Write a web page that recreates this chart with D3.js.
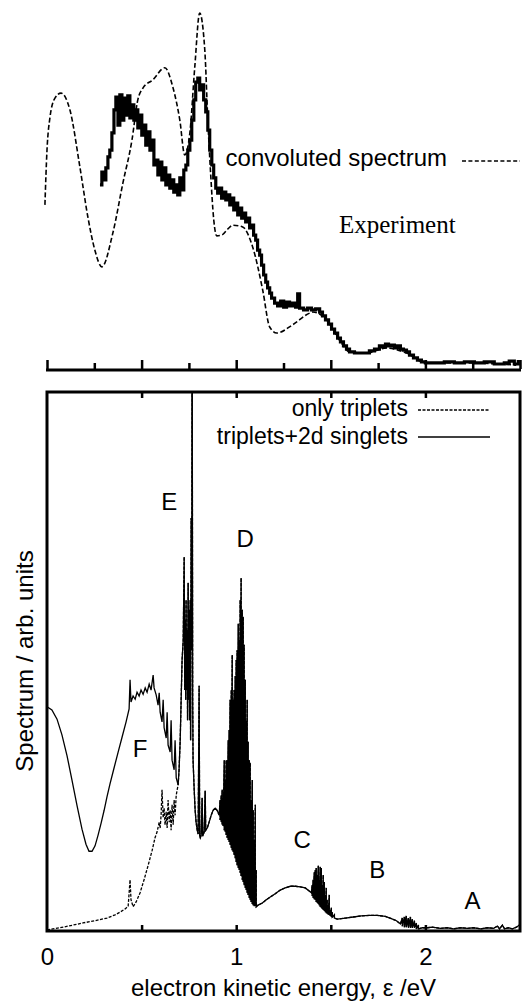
<!DOCTYPE html>
<html><head><meta charset="utf-8">
<script src="https://cdn.jsdelivr.net/npm/d3@7"></script>
<style>
html,body{margin:0;padding:0;background:#fff;}
svg{display:block;}
text{font-family:"Liberation Sans",Arial,Helvetica,sans-serif;fill:#000;}
</style>
</head><body>
<svg id="c" width="522" height="1006"></svg>
<script>
// ---------- DATA ----------
// Top panel: convoluted theoretical spectrum (dashed)
const convoluted = [[-0.011,46.1],[0.000,61.5],[0.016,70.8],[0.042,76.1],[0.074,77.5],[0.121,72.8],[0.174,56.7],[0.216,42.7],[0.253,33.4],[0.290,28.7],[0.348,38.2],[0.401,52.2],[0.449,64.3],[0.480,75.6],[0.507,78.9],[0.559,81.2],[0.623,84.6],[0.665,79.2],[0.702,69.9],[0.728,60.1],[0.755,66.3],[0.781,84.8],[0.807,100],[0.834,89.6],[0.850,69.9],[0.865,54.8],[0.881,42.1],[0.897,37.4],[0.923,37.6],[0.955,39.3],[0.982,40.4],[1.034,39.9],[1.087,34.3],[1.140,22.2],[1.177,11.8],[1.214,10.1],[1.298,12.4],[1.388,15.7],[1.404,16.0],[1.478,13.8],[1.546,8.1],[1.599,4.8],[1.689,4.5],[1.794,5.9],[1.900,4.5],[2.005,1.7],[2.216,1.7],[2.480,1.1]];

// Top panel: experiment (thick step line)
const experiment = [[0.280,51.7],[0.290,55.3],[0.301,53.1],[0.311,56.5],[0.322,59.6],[0.332,61.5],[0.343,66.3],[0.354,72.8],[0.364,76.4],[0.375,68.5],[0.385,77.0],[0.396,69.9],[0.406,76.1],[0.417,71.3],[0.427,76.7],[0.438,70.5],[0.449,74.2],[0.459,69.9],[0.470,72.8],[0.480,67.7],[0.491,71.3],[0.501,65.7],[0.512,68.5],[0.522,62.9],[0.533,66.6],[0.544,61.5],[0.554,64.3],[0.565,57.3],[0.575,58.7],[0.586,54.5],[0.596,58.1],[0.607,53.1],[0.617,56.5],[0.628,51.7],[0.639,54.5],[0.649,50.8],[0.660,53.1],[0.670,49.7],[0.681,51.7],[0.691,48.9],[0.702,53.7],[0.712,50.3],[0.723,55.9],[0.734,57.3],[0.744,61.5],[0.755,64.3],[0.765,69.9],[0.776,75.6],[0.786,80.6],[0.797,81.7],[0.807,78.4],[0.818,79.8],[0.828,75.6],[0.839,72.2],[0.850,67.1],[0.860,61.5],[0.871,57.3],[0.881,53.7],[0.892,50.8],[0.902,49.4],[0.913,50.8],[0.923,48.0],[0.934,49.7],[0.945,47.5],[0.955,48.9],[0.966,46.1],[0.976,48.0],[0.987,44.7],[0.997,46.6],[1.008,43.3],[1.018,45.2],[1.029,42.4],[1.040,43.8],[1.050,41.3],[1.061,42.4],[1.071,39.6],[1.082,40.4],[1.092,37.6],[1.103,36.2],[1.113,33.4],[1.124,32.0],[1.134,29.2],[1.145,26.4],[1.156,24.4],[1.166,22.8],[1.177,21.3],[1.187,19.9],[1.203,18.5],[1.219,17.7],[1.235,19.1],[1.251,17.4],[1.266,18.8],[1.282,17.7],[1.298,18.5],[1.314,17.4],[1.325,21.1],[1.335,17.1],[1.356,16.6],[1.377,17.1],[1.398,16.6],[1.420,16.9],[1.441,16.0],[1.456,14.9],[1.472,13.8],[1.488,12.6],[1.504,11.2],[1.520,10.1],[1.536,8.7],[1.551,7.6],[1.567,6.5],[1.583,5.6],[1.599,4.8],[1.625,4.5],[1.652,4.5],[1.678,4.5],[1.704,5.1],[1.731,5.6],[1.757,6.5],[1.773,6.2],[1.789,7.0],[1.805,6.5],[1.821,6.7],[1.836,5.9],[1.852,6.5],[1.868,5.6],[1.884,5.3],[1.900,4.8],[1.916,3.9],[1.937,3.1],[1.958,2.5],[1.979,2.0],[2.000,1.7],[2.048,1.7],[2.100,2.0],[2.153,1.7],[2.206,2.0],[2.259,1.7],[2.311,2.0],[2.364,1.4],[2.417,1.7],[2.443,2.2],[2.470,1.4],[2.491,2.5]];

// Bottom panel: "triplets+2d singlets" low-energy part (solid)
const singletsLow = [[0.000,41.6],[0.026,41.0],[0.053,39.3],[0.079,36.4],[0.106,32.5],[0.132,28.0],[0.159,23.2],[0.185,18.9],[0.206,16.1],[0.222,14.8],[0.238,14.8],[0.254,15.8],[0.270,17.8],[0.286,20.0],[0.302,22.4],[0.317,24.9],[0.333,27.3],[0.354,30.2],[0.376,33.2],[0.397,36.0],[0.418,38.8],[0.434,41.2],[0.439,46.6],[0.444,42.5],[0.455,43.6],[0.466,43.0],[0.476,44.3],[0.487,43.6],[0.497,44.7],[0.508,43.9],[0.519,45.1],[0.529,44.3],[0.540,45.8],[0.550,44.7],[0.561,47.5],[0.566,45.1],[0.577,43.8],[0.587,41.9],[0.593,44.2],[0.598,40.6],[0.608,38.8],[0.614,42.9],[0.619,37.7],[0.630,35.8],[0.635,40.6],[0.640,34.5],[0.651,33.2],[0.656,39.1],[0.661,31.7],[0.672,29.9],[0.677,35.4],[0.683,28.4],[0.693,27.1]];

// Bottom panel: "only triplets" low-energy part (dashed)
const tripletsLow = [[0.000,0.2],[0.069,0.6],[0.138,1.1],[0.190,1.5],[0.254,1.9],[0.317,2.4],[0.360,3.0],[0.386,3.5],[0.413,4.1],[0.429,4.6],[0.439,9.5],[0.444,5.8],[0.455,4.5],[0.471,5.4],[0.492,7.1],[0.513,9.5],[0.534,12.1],[0.556,15.0],[0.571,17.3],[0.582,18.4],[0.593,20.2],[0.598,19.1],[0.603,21.5],[0.608,26.2],[0.614,21.0],[0.619,22.8],[0.624,19.7],[0.630,22.1],[0.635,19.1],[0.640,24.3],[0.646,20.2],[0.651,22.4],[0.656,18.7],[0.661,23.4],[0.667,19.7],[0.672,24.3],[0.677,21.5],[0.683,25.2],[0.688,26.2],[0.693,27.1]];

// Bottom panel: common part of both spectra (E region and up)
const sharedE = [[0.698,29.9],[0.704,35.4],[0.709,42.9],[0.714,50.3],[0.720,54.0],[0.725,69.4],[0.728,44.7],[0.730,57.7],[0.733,42.9],[0.735,61.4],[0.738,44.7],[0.741,55.8],[0.743,39.1],[0.746,64.6],[0.749,42.9],[0.751,59.6],[0.754,39.1],[0.757,61.4],[0.759,35.4],[0.762,76.6],[0.765,52.1],[0.767,120],[0.770,42.9],[0.772,31.7],[0.778,26.2],[0.783,22.4],[0.788,20.2],[0.794,18.7],[0.799,18.0],[0.804,45.5],[0.807,17.6],[0.810,17.3],[0.815,17.8],[0.820,24.7],[0.823,17.6],[0.831,18.4],[0.836,26.0],[0.839,18.7],[0.847,19.1],[0.857,20.2],[0.868,21.5],[0.878,22.4],[0.889,22.8],[0.899,22.4],[0.910,21.5]];
// D band: [energy, upper, lower]
const bandD = [[0.915,24.3,20.6],[0.921,25.2,20.2],[0.926,26.2,19.7],[0.931,24.7,19.5],[0.937,31.7,18.7],[0.942,28.0,18.4],[0.947,31.7,17.8],[0.952,31.7,17.3],[0.958,35.4,16.9],[0.963,37.3,16.5],[0.968,42.9,16.0],[0.974,44.7,15.4],[0.979,51.2,15.0],[0.984,42.9,14.7],[0.989,44.7,14.1],[0.995,47.3,13.5],[1.000,50.3,12.8],[1.005,52.1,12.2],[1.011,57.0,11.7],[1.016,54.0,11.3],[1.021,61.4,10.8],[1.026,65.5,10.2],[1.032,59.6,9.5],[1.037,58.3,9.1],[1.042,53.1,8.5],[1.048,46.6,8.0],[1.053,39.0,7.6],[1.058,42.9,7.1],[1.063,35.1,6.7],[1.069,31.7,6.1],[1.074,31.2,5.8],[1.079,24.3,5.4],[1.085,28.0,5.0],[1.090,22.4,4.8],[1.095,16.9,4.6],[1.101,23.4,4.6],[1.106,11.3,4.5]];
const sharedC = [[1.116,4.8],[1.138,5.2],[1.159,5.8],[1.180,6.3],[1.206,6.9],[1.233,7.6],[1.259,8.0],[1.286,8.3],[1.312,8.3],[1.339,8.2],[1.365,8.0],[1.386,7.4],[1.397,7.1]];
const bandC = [[1.402,8.5,6.5],[1.407,9.5,6.1],[1.413,10.9,5.9],[1.418,11.3,5.8],[1.423,11.7,5.4],[1.429,10.4,5.2],[1.434,12.1,5.0],[1.439,9.5,4.8],[1.444,11.9,4.5],[1.450,11.7,4.3],[1.455,8.5,4.1],[1.460,10.4,3.9],[1.466,9.1,3.7],[1.471,6.7,3.5],[1.476,8.0,3.3],[1.481,5.8,3.2],[1.487,4.8,3.0],[1.492,6.7,3.0],[1.497,3.9,2.8],[1.503,4.3,2.6],[1.508,3.5,2.6],[1.519,3.0,2.4]];
const sharedB = [[1.534,2.2],[1.577,2.4],[1.619,2.6],[1.661,2.8],[1.704,2.9],[1.746,2.9],[1.788,2.7],[1.820,2.3],[1.847,1.9],[1.868,1.3]];
const bandB = [[1.878,2.4,0.9],[1.889,2.6,0.7],[1.899,2.8,0.7],[1.910,2.4,0.6],[1.921,2.6,0.6],[1.931,2.2,0.6],[1.942,1.9,0.6],[1.952,1.5,0.4],[1.963,1.1,0.4]];
const sharedA = [[1.984,0.6],[2.011,0.6],[2.037,0.7],[2.079,0.5],[2.116,0.6],[2.148,0.4],[2.185,0.6],[2.222,0.5],[2.254,0.6],[2.291,0.4],[2.328,0.6],[2.360,0.5],[2.381,0.9],[2.392,0.4],[2.407,1.1],[2.418,0.4],[2.439,0.6],[2.460,0.4],[2.481,0.7],[2.497,1.1]];

// Axes ticks / labels
const topMajorTicks = [0,0.5,1,1.5,2,2.5];
const topMinorTicks = [0.25,0.75,1.25,1.75,2.25];
const frameTicks = [0.5,1,1.5,2];
const xTickLabels = [0,1,2];

// Peak annotations [label, energy, height]
const peakLabels = [["E",0.646,78.1],["D",1.048,71.2],["C",1.349,15.4],["B",1.746,9.8],["A",2.249,4.1],["F",0.492,32.3]];

// ---------- DRAW ----------
const svg = d3.select('#c');
const x = d3.scaleLinear().domain([0,2.5]).range([47,520]);
const yTop = d3.scaleLinear().domain([0,100]).range([369,13]);
const yBot = d3.scaleLinear().domain([0,100]).range([931,392]);

const flatten = band => band.flatMap(d => [[d[0],d[1]],[d[0],d[2]]]);
const shared = sharedE.concat(flatten(bandD), sharedC, flatten(bandC), sharedB, flatten(bandB), sharedA);
const singlets = singletsLow.concat(shared);
const triplets = tripletsLow.concat(shared);

// ----- top panel -----
const gt = svg.append('g');
const lineTop = d3.line().x(d=>x(d[0])).y(d=>yTop(d[1]));

gt.append('path').datum(convoluted)
  .attr('d', lineTop.curve(d3.curveMonotoneX))
  .attr('fill','none').attr('stroke','#000').attr('stroke-width',1.6)
  .attr('stroke-dasharray','5,2.5');

gt.append('path').datum(experiment)
  .attr('d', d3.line().x(d=>x(d[0])).y(d=>yTop(d[1])).curve(d3.curveStepAfter))
  .attr('fill','none').attr('stroke','#000').attr('stroke-width',3.2);

const tickStyle = g => { g.select('.domain').remove(); g.selectAll('.tick line').attr('stroke','#000').attr('stroke-width',2.5); };
gt.append('g').attr('transform','translate(0,369)')
  .call(d3.axisTop(x).tickValues(topMajorTicks).tickSize(9).tickFormat(''))
  .call(tickStyle);
gt.append('g').attr('transform','translate(0,369)')
  .call(d3.axisTop(x).tickValues(topMinorTicks).tickSize(6).tickFormat(''))
  .call(tickStyle);
gt.append('line').attr('x1',x(0)-1).attr('x2',x(2.5)+1).attr('y1',370).attr('y2',370)
  .attr('stroke','#000').attr('stroke-width',3);

// legend top
gt.append('text').attr('x',447).attr('y',166).attr('text-anchor','end')
  .style('font-size','24px').text('convoluted spectrum');
gt.append('line').attr('x1',462).attr('x2',520).attr('y1',161).attr('y2',161)
  .attr('stroke','#000').attr('stroke-width',1.6).attr('stroke-dasharray','4,2.4');
gt.append('text').attr('x',339).attr('y',233)
  .style('font-family','"Liberation Serif","Times New Roman",serif').style('font-size','25px')
  .text('Experiment');

// ----- bottom panel -----
const gb = svg.append('g');
svg.append('defs').append('clipPath').attr('id','clipB')
  .append('rect').attr('x',47).attr('y',392).attr('width',473).attr('height',539);
const lineBot = d3.line().x(d=>x(d[0])).y(d=>yBot(d[1]));
const plot = gb.append('g').attr('clip-path','url(#clipB)');
plot.append('path').datum(triplets).attr('d',lineBot)
  .attr('fill','none').attr('stroke','#000').attr('stroke-width',1.3)
  .attr('stroke-dasharray','3,1.5');
plot.append('path').datum(singlets).attr('d',lineBot)
  .attr('fill','none').attr('stroke','#000').attr('stroke-width',1.3);

// frame
gb.append('rect').attr('x',47).attr('y',392).attr('width',473).attr('height',539)
  .attr('fill','none').attr('stroke','#000').attr('stroke-width',3);
gb.append('g').attr('transform','translate(0,931)')
  .call(d3.axisTop(x).tickValues(frameTicks).tickSize(6).tickFormat(''))
  .call(tickStyle);
gb.append('g').attr('transform','translate(0,392)')
  .call(d3.axisBottom(x).tickValues(frameTicks).tickSize(6).tickFormat(''))
  .call(tickStyle);
gb.append('g').attr('transform','translate(0,931)')
  .call(d3.axisBottom(x).tickValues(xTickLabels).tickSize(0).tickPadding(17).tickFormat(d3.format('d')))
  .call(g=>{ g.select('.domain').remove();
    g.selectAll('text').attr('font-family',null).style('font-size','24px').attr('fill','#000'); });

// axis titles
svg.append('text').attr('x',283.5).attr('y',996).attr('text-anchor','middle')
  .style('font-size','24px').text('electron kinetic energy, \u03B5 /eV');
svg.append('text').attr('transform','translate(33,661) rotate(-90)').attr('text-anchor','middle')
  .style('font-size','24px').text('Spectrum / arb. units');

// legend bottom
gb.append('text').attr('x',408).attr('y',416).attr('text-anchor','end')
  .style('font-size','23px').text('only triplets');
gb.append('line').attr('x1',418).attr('x2',490).attr('y1',410).attr('y2',410)
  .attr('stroke','#000').attr('stroke-width',1.3).attr('stroke-dasharray','3,1.5');
gb.append('text').attr('x',408).attr('y',444).attr('text-anchor','end')
  .style('font-size','23px').text('triplets+2d singlets');
gb.append('line').attr('x1',418).attr('x2',490).attr('y1',437).attr('y2',437)
  .attr('stroke','#000').attr('stroke-width',1.3);

// peak labels
gb.selectAll('text.peak').data(peakLabels).enter().append('text').attr('class','peak')
  .attr('x',d=>x(d[1])).attr('y',d=>yBot(d[2])).attr('text-anchor','middle')
  .style('font-size','24px').text(d=>d[0]);
</script>
</body></html>
